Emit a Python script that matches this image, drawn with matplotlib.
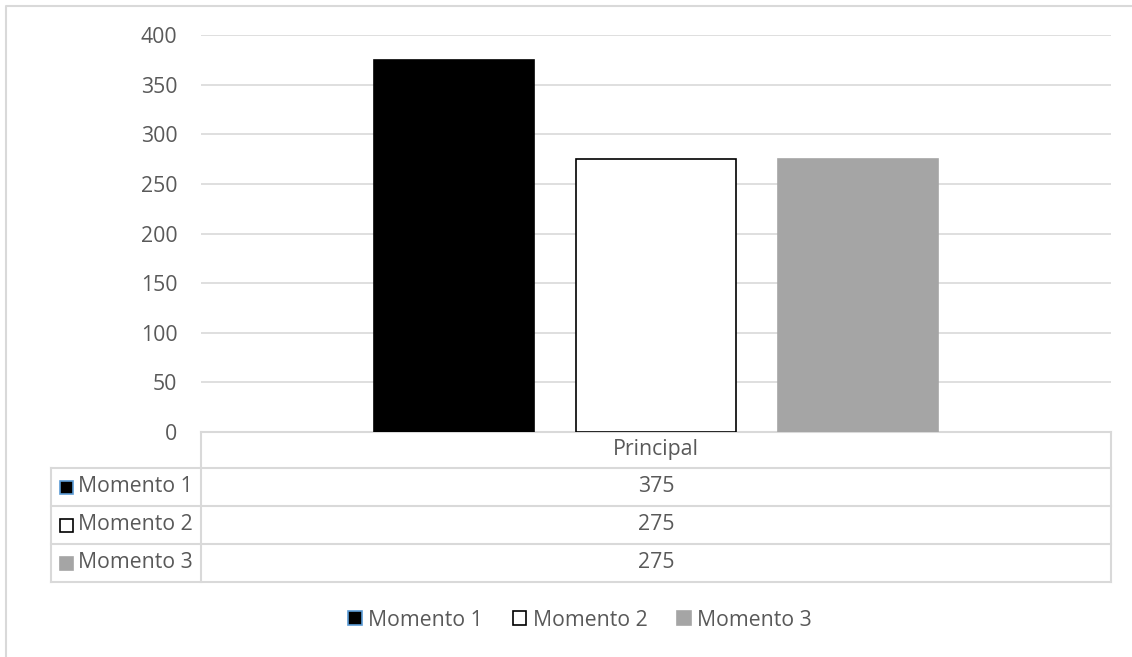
import matplotlib
matplotlib.use("Agg")
import matplotlib.pyplot as plt
from matplotlib.patches import Rectangle

plt.rcParams['font.family'] = ['Open Sans', 'DejaVu Sans']

categories = ["Principal"]
series = ["Momento 1", "Momento 2", "Momento 3"]
values = [375, 275, 275]
yticks = [0, 50, 100, 150, 200, 250, 300, 350, 400]

face_colors = ["#000000", "#FFFFFF", "#A5A5A5"]
edge_colors = ["#000000", "#000000", "#A5A5A5"]
legend_edges = ["#5B9BD5", "#000000", "#A5A5A5"]
text_color = "#595959"
grid_color = "#D9D9D9"
FS = 15.3

W, H = 1132, 657
fig = plt.figure(figsize=(W / 100, H / 100), dpi=100)

# pixel overlay
ov = fig.add_axes([0, 0, 1, 1])
ov.set_xlim(0, W)
ov.set_ylim(H, 0)
ov.axis("off")

# outer border (left and top)
ov.plot([6, 6, W + 5], [H + 5, 6, 6], color=grid_color, lw=1.5)

# plot area
px_l, px_r, px_t, px_b = 201, 1111, 35, 432
ax = fig.add_axes([px_l / W, 1 - px_b / H, (px_r - px_l) / W, (px_b - px_t) / H])
ax.set_xlim(-0.5, 0.5)
ax.set_ylim(0, 400)
bw = 160 / 910
off = 202 / 910
for i, (s, v) in enumerate(zip(series, values)):
    ax.bar((i - 1) * off, v, width=bw, color=face_colors[i],
           edgecolor=edge_colors[i], linewidth=1.2, label=s, zorder=3)
ax.set_yticks(yticks)
ax.set_yticklabels([str(t) for t in yticks], fontsize=FS, color=text_color)
ax.tick_params(axis='y', length=0, pad=17)
ax.set_xticks([])
ax.grid(axis='y', color=grid_color, lw=1.2, zorder=0)
for sp in ax.spines.values():
    sp.set_visible(False)
ax.set_facecolor("none")

# data table
row_y = [432, 468, 506, 544, 582]
tab_l, tab_m, tab_r = 51, 201, 1111
lc = grid_color
lw = 1.5
ov.plot([tab_m, tab_m], [row_y[0], row_y[-1]], color=lc, lw=lw)
ov.plot([tab_r, tab_r], [row_y[0], row_y[-1]], color=lc, lw=lw)
ov.plot([tab_m, tab_r], [row_y[0], row_y[0]], color=lc, lw=lw)
for y in row_y[1:]:
    ov.plot([tab_l, tab_r], [y, y], color=lc, lw=lw)
ov.plot([tab_l, tab_l], [row_y[1], row_y[-1]], color=lc, lw=lw)

cx = (tab_m + tab_r) / 2
ov.text(cx, (row_y[0] + row_y[1]) / 2, categories[0], ha='center', va='center',
        fontsize=FS, color=text_color)
for i, (s, v) in enumerate(zip(series, values)):
    yc = (row_y[i + 1] + row_y[i + 2]) / 2
    ov.add_patch(Rectangle((60, yc - 6.5), 13, 13, facecolor=face_colors[i],
                           edgecolor=legend_edges[i], lw=1.2))
    ov.text(78, yc, s, ha='left', va='center', fontsize=FS, color=text_color)
    ov.text(cx, yc, str(v), ha='center', va='center', fontsize=FS, color=text_color)

# legend
handles = []
for i, s in enumerate(series):
    handles.append(Rectangle((0, 0), 1, 1, facecolor=face_colors[i],
                             edgecolor=legend_edges[i], lw=1.2, label=s))
fig.legend(handles=handles, loc='center', bbox_to_anchor=(580 / W, 1 - 620 / H),
           ncol=3, frameon=False, fontsize=FS, labelcolor=text_color,
           handlelength=0.65, handleheight=0.65, handletextpad=0.3,
           columnspacing=1.4)

fig.savefig("out.png", dpi=100, facecolor="white")
